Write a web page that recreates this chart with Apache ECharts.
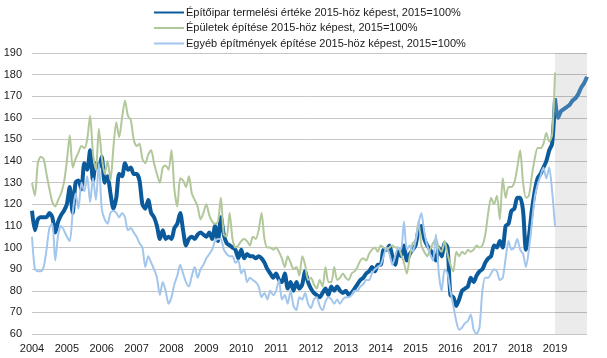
<!DOCTYPE html>
<html>
<head>
<meta charset="utf-8">
<script src="https://cdn.jsdelivr.net/npm/echarts@6/dist/echarts.min.js"></script>
<style>
html,body{margin:0;padding:0;background:#fff;}
#chart{width:607px;height:358px;}
</style>
</head>
<body>
<div id="chart"></div>
<script>
const years = ['2004','2005','2006','2007','2008','2009','2010','2011','2012','2013','2014','2015','2016','2017','2018','2019'];
const months = ['01','02','03','04','05','06','07','08','09','10','11','12'];
const forecastStart = '2019-01';

const seriesNames = [
  'Építőipar termelési értéke 2015-höz képest, 2015=100%',
  'Épületek építése 2015-höz képest, 2015=100%',
  'Egyéb építmények építése 2015-höz képest, 2015=100%'
];

// Építőipar termelési értéke (monthly, 2004-01 .. 2019-12)
const epitoipar = [
  117,108,113,114,114,114,116,114,107,112,115,117,
  120,128,116,130,131,127,139,136,145,131,139,137,
  142,130,133,125,118,123,134,133,139,136,137,134,
  134,131,120,118,122,116,114,110,104,108,104,105,
  104,109,111,116,108,101,104,105,104,106,107,106,
  105,107,104,110,103,114,106,102,101,100,99,95,
  99,95,97,96,96,95,96,95,93,90,88,86,
  88,85,84,88,81,84,80,84,81,83,89,84,
  81,79,78,77,79,81,78,82,80,82,80,79,
  80,78,79,81,83,85,86,88,89,91,89,92,
  92,99,99,101,96,92,98,96,101,94,97,99,
  101,108,110,104,101,99,97,94,100,96,102,100,
  78,77,73,76,80,81,82,86,84,87,89,90,
  93,95,96,101,100,103,100,110,111,117,118,123,
  123,117,99,105,117,126,132,134,137,140,145,148,
  169,160,163,164,165,166,168,169,171,174,176,179
];

// Épületek építése
const epuletek = [
  130,124,139,142,141,134,127,121,119,122,125,130,
  140,152,137,141,144,147,146,150,161,143,136,155,
  142,134,140,131,146,158,151,160,168,161,159,150,
  147,148,141,139,143,145,139,134,130,137,138,136,
  145,127,119,132,131,128,133,125,122,119,113,116,
  120,115,112,111,112,123,106,105,116,104,100,101,
  103,104,103,101,105,104,108,116,104,100,100,99,
  100,98,95,91,96,93,90,91,87,96,92,85,
  86,83,81,85,82,91,84,84,91,85,86,88,
  86,85,88,89,91,94,95,94,97,99,100,98,
  101,100,99,100,101,100,100,97,93,88,96,102,
  103,112,101,98,96,99,102,104,100,98,103,97,
  92,89,98,96,98,97,99,98,99,101,100,101,
  106,116,123,120,124,113,132,123,128,128,130,137,
  145,130,123,124,133,141,146,146,148,153,149,152,
  181,null,null,null,null,null,null,null,null,null,null,null
];

// Egyéb építmények építése
const egyeb = [
  105,90,89,89,91,99,109,111,94,106,110,108,
  105,103,116,125,118,130,126,133,121,132,122,139,
  118,113,111,116,117,116,114,116,114,108,109,107,
  105,102,100,91,96,93,90,86,78,84,80,74,
  77,83,87,92,88,84,82,87,91,86,90,92,
  95,97,99,103,104,104,99,97,96,96,93,94,
  88,90,84,86,85,84,82,77,79,76,80,78,
  80,85,76,78,74,80,73,71,77,76,79,74,
  72,76,77,73,71,75,77,76,74,76,74,76,
  77,77,78,80,80,82,83,85,85,88,90,91,
  92,96,100,97,92,96,100,99,112,99,101,98,
  103,111,116,107,101,97,94,106,88,80,90,88,
  80,73,66,62,63,65,66,69,62,60,63,80,
  86,86,88,90,89,85,86,95,103,99,100,104,
  99,97,91,99,111,123,129,133,137,132,137,126,
  110,null,null,null,null,null,null,null,null,null,null,null
];

const categories = [];
years.forEach(y => months.forEach(m => categories.push(y + '-' + m)));
const fIdx = categories.indexOf(forecastStart);

const mainPart = epitoipar.map((v, i) => i <= fIdx ? v : null);
const forecastPart = epitoipar.map((v, i) => i >= fIdx ? v : null);

const chart = echarts.init(document.getElementById('chart'), null, {renderer: 'canvas'});
const font = 'Liberation Sans, Arial, sans-serif';
chart.setOption({
  animation: false,
  backgroundColor: '#fff',
  grid: {left: 32, right: 20, top: 53, bottom: 24, containLabel: false},
  legend: {
    orient: 'vertical',
    left: 148,
    top: 2,
    itemWidth: 30,
    itemHeight: 12,
    itemGap: 4.5,
    data: seriesNames,
    itemStyle: {opacity: 0},
    textStyle: {fontFamily: font, fontSize: 11, color: '#1a1a1a', padding: [0, 0, 0, -3]}
  },
  xAxis: {
    type: 'category',
    data: categories,
    boundaryGap: false,
    axisLine: {show: false},
    axisTick: {show: false},
    splitLine: {show: false},
    axisLabel: {
      interval: (i) => i % 12 === 0,
      formatter: (v) => v.slice(0, 4),
      fontFamily: font,
      fontSize: 11,
      color: '#1a1a1a',
      margin: 9
    }
  },
  yAxis: {
    type: 'value',
    min: 60,
    max: 190,
    interval: 10,
    axisLine: {show: false},
    axisTick: {show: false},
    splitLine: {lineStyle: {color: '#c6c6c6', width: 1}},
    axisLabel: {fontFamily: font, fontSize: 11, color: '#1a1a1a', margin: 10}
  },
  series: [
    {
      name: seriesNames[0],
      type: 'line',
      data: mainPart,
      symbol: 'none',
      smooth: 0.25,
      lineStyle: {color: '#0b5a9c', width: 4},
      itemStyle: {color: '#0b5a9c'},
      z: 2,
      markArea: {
        silent: true,
        itemStyle: {color: 'rgba(0,0,0,0.08)'},
        data: [[{xAxis: forecastStart}, {xAxis: categories[categories.length - 1]}]]
      }
    },
    {
      name: 'forecast',
      type: 'line',
      data: forecastPart,
      symbol: 'none',
      smooth: 0.25,
      lineStyle: {color: '#3b7bb0', width: 4},
      itemStyle: {color: '#3b7bb0'},
      z: 2
    },
    {
      name: seriesNames[1],
      type: 'line',
      data: epuletek,
      symbol: 'none',
      smooth: 0.25,
      lineStyle: {color: '#b2c79a', width: 2},
      itemStyle: {color: '#b2c79a'},
      z: 3
    },
    {
      name: seriesNames[2],
      type: 'line',
      data: egyeb,
      symbol: 'none',
      smooth: 0.25,
      lineStyle: {color: '#a3c6ec', width: 2},
      itemStyle: {color: '#a3c6ec'},
      z: 4
    }
  ]
});
</script>
</body>
</html>
